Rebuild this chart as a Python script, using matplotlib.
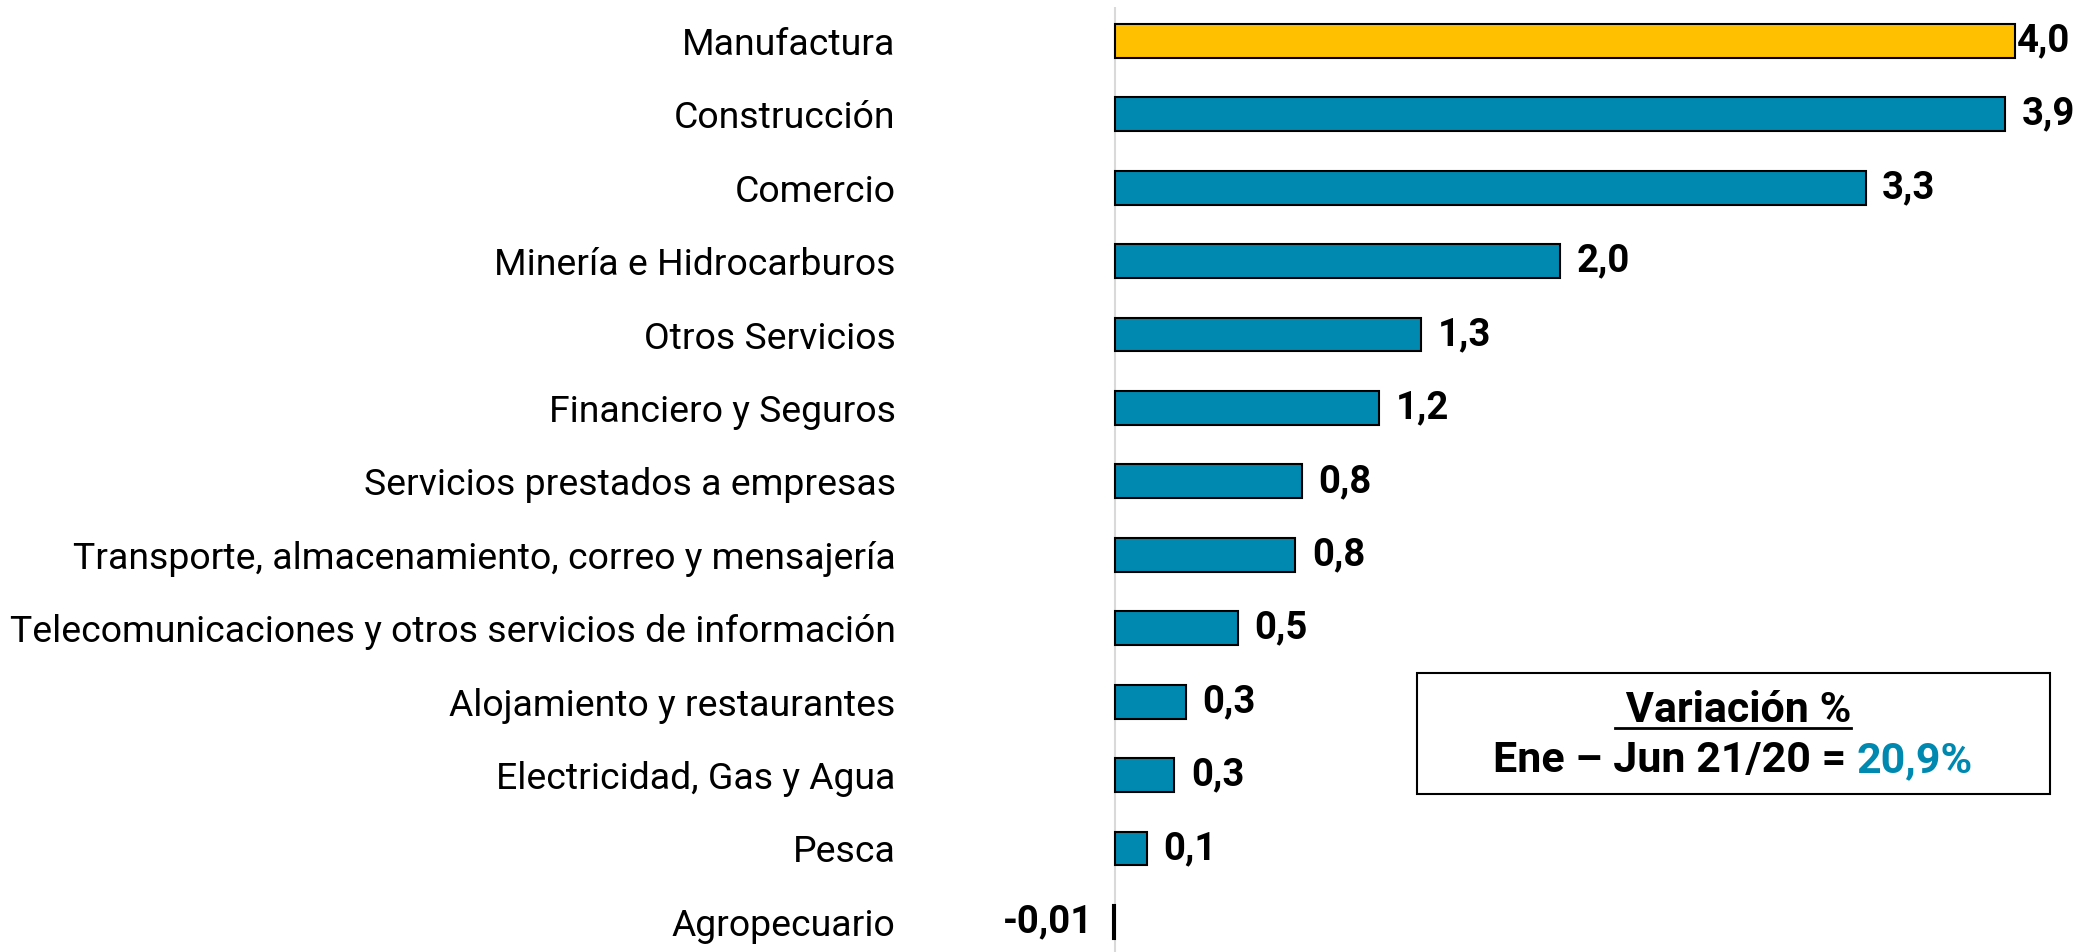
import matplotlib
matplotlib.use("Agg")
import matplotlib.pyplot as plt
from matplotlib.patches import Rectangle
from matplotlib.lines import Line2D

plt.rcParams['font.family'] = ['Roboto', 'DejaVu Sans']

sectores = [
    "Manufactura",
    "Construcción",
    "Comercio",
    "Minería e Hidrocarburos",
    "Otros Servicios",
    "Financiero y Seguros",
    "Servicios prestados a empresas",
    "Transporte, almacenamiento, correo y mensajería",
    "Telecomunicaciones y otros servicios de información",
    "Alojamiento y restaurantes",
    "Electricidad, Gas y Agua",
    "Pesca",
    "Agropecuario",
]
valores = [4.0, 3.956, 3.336, 1.978, 1.359, 1.173, 0.831, 0.801, 0.547,
           0.316, 0.264, 0.141, -0.01]
etiquetas = ["4,0", "3,9", "3,3", "2,0", "1,3", "1,2", "0,8", "0,8", "0,5",
             "0,3", "0,3", "0,1", "-0,01"]
variacion_total = "20,9%"

TEAL = "#0089B0"
YELLOW = "#FFC000"

fig = plt.figure(figsize=(20.98, 9.52), dpi=100)
ax = fig.add_axes([0.4766, 0.0, 0.5234, 0.9926])

colores = [YELLOW] + [TEAL] * (len(valores) - 1)
colores[-1] = "#7a1f2b"
ypos = list(range(len(sectores)))
ax.barh(ypos, valores, height=0.46, color=colores, edgecolor="black",
        linewidth=1.5, zorder=3)

ax.set_xlim(-0.511, 4.369)
ax.set_ylim(12.41, -0.46)
ax.set_yticks(ypos)
ax.set_yticklabels(sectores, fontsize=26.9)
ax.tick_params(axis="y", length=0, pad=75)
ax.set_xticks([])
for s in ax.spines.values():
    s.set_visible(False)
ax.axvline(0, color="#D9D9D9", linewidth=1.5, zorder=1)

for y, v, lab in zip(ypos, valores, etiquetas):
    if v >= 0:
        ax.annotate(lab, (v, y), xytext=(12 if v < 4 else 1.5, 0),
                    textcoords="offset points", ha="left", va="center",
                    fontsize=27.5, fontweight="bold")
    else:
        ax.annotate(lab, (v, y), xytext=(-14, 0),
                    textcoords="offset points", ha="right", va="center",
                    fontsize=27.5, fontweight="bold")

# cuadro de variacion
H = 952.0
fig.patches.append(Rectangle((0.6754, 1 - 794 / H), 0.3017, 121 / H,
                             transform=fig.transFigure, fill=False,
                             edgecolor="black", linewidth=1.5))
cx = 0.826
t0 = fig.text(cx, 1 - 722 / H, " Variación %", ha="center", va="baseline",
              fontsize=31, fontweight="bold")
ta = fig.text(0, 1 - 772 / H, "Ene – Jun 21/20 = ", ha="left", va="baseline",
              fontsize=31, fontweight="bold")
tb = fig.text(0, 1 - 772 / H, variacion_total, ha="left", va="baseline",
              fontsize=31, fontweight="bold", color=TEAL)

r = fig.canvas.get_renderer()
wa = ta.get_window_extent(r).width / fig.bbox.width
wb = tb.get_window_extent(r).width / fig.bbox.width
x0 = cx - (wa + wb) / 2
ta.set_x(x0)
tb.set_x(x0 + wa)

# subrayado bajo "Variación %"
bb = t0.get_window_extent(r)
yline = 1 - 728 / H
fig.lines.append(Line2D([bb.x0 / fig.bbox.width, bb.x1 / fig.bbox.width],
                        [yline, yline], transform=fig.transFigure,
                        color="black", linewidth=2))

fig.savefig("out.png", dpi=100)
